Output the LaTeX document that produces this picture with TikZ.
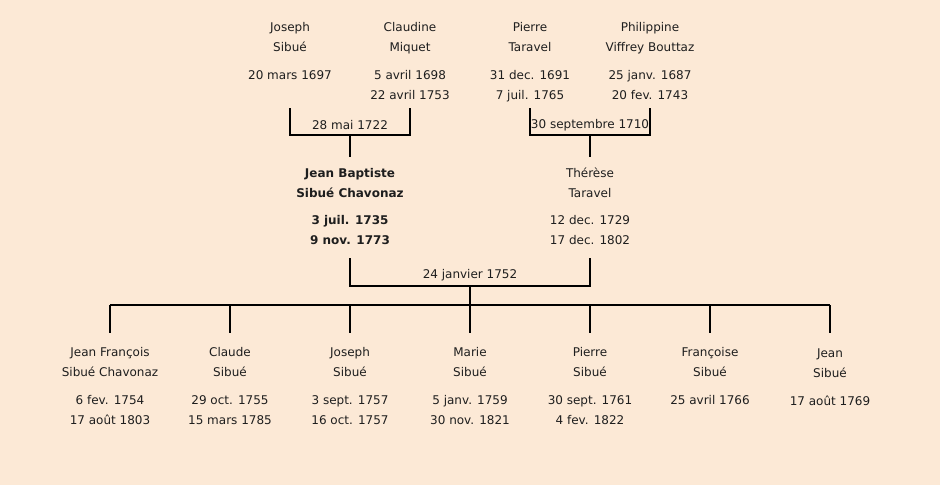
\documentclass[tikz,border=0pt]{standalone}
\usepackage{fontspec}
\setmainfont{DejaVu Sans}
\definecolor{bgc}{HTML}{FCE9D6}
\definecolor{txt}{HTML}{1E1E1E}
\begin{document}
\begin{tikzpicture}[x=1pt,y=-1pt,
  person/.style={align=center,anchor=north,inner sep=0pt,text=txt,font=\fontsize{12}{20}\selectfont},
  boldperson/.style={person,font=\fontsize{12}{20}\selectfont\bfseries},
  wed/.style={inner sep=0pt,text=txt,font=\fontsize{12}{14}\selectfont},
  link/.style={draw=black,line width=2pt}]
\fill[bgc] (0,0) rectangle (940,485);
\useasboundingbox (0,0) rectangle (940,485);
% top generation
\node[person] (joseph) at (290,22) {Joseph\\Sibué\\[8pt]20 mars 1697};
\node[person] (claudine) at (410,22) {Claudine\\Miquet\\[8pt]5 avril 1698\\22 avril 1753};
\node[person] (pierre) at (530,22) {Pierre\\Taravel\\[8pt]31 dec. 1691\\7 juil. 1765};
\node[person] (philippine) at (650,22) {Philippine\\Viffrey Bouttaz\\[8pt]25 janv. 1687\\20 fev. 1743};
% middle generation
\node[boldperson] (jb) at (350,168) {Jean Baptiste\\Sibué Chavonaz\\[7pt]3 juil. 1735\\9 nov. 1773};
\node[person] (therese) at (590,168) {Thérèse\\Taravel\\[7pt]12 dec. 1729\\17 dec. 1802};
% children
\node[person] (c1) at (110,347) {Jean François\\Sibué Chavonaz\\[8pt]6 fev. 1754\\17 août 1803};
\node[person] (c2) at (230,347) {Claude\\Sibué\\[8pt]29 oct. 1755\\15 mars 1785};
\node[person] (c3) at (350,347) {Joseph\\Sibué\\[8pt]3 sept. 1757\\16 oct. 1757};
\node[person] (c4) at (470,347) {Marie\\Sibué\\[8pt]5 janv. 1759\\30 nov. 1821};
\node[person] (c5) at (590,347) {Pierre\\Sibué\\[8pt]30 sept. 1761\\4 fev. 1822};
\node[person] (c6) at (710,347) {Françoise\\Sibué\\[8pt]25 avril 1766};
\node[person] (c7) at (830,348.5) {Jean\\Sibué\\[8pt]17 août 1769};
% helper coordinates
\coordinate (t1) at (0,108);
\coordinate (m1) at (350,135);
\coordinate (m2) at (590,135);
\coordinate (s1) at (0,157);
\coordinate (t2) at (0,258);
\coordinate (m3) at (470,286);
\coordinate (bar) at (470,305);
\coordinate (t3) at (0,333);
% marriage labels
\node[wed] (w1) at (350,125) {28 mai 1722};
\node[wed] (w2) at (590,125) {30 septembre 1710};
\node[wed] (w3) at (470,275) {24 janvier 1752};
% connectors
\draw[link] (joseph |- t1) -- (joseph |- m1) -- (claudine |- m1) -- (claudine |- t1);
\draw[link] (m1) -- (m1 |- s1);
\draw[link] (pierre |- t1) -- (pierre |- m2) -- (philippine |- m2) -- (philippine |- t1);
\draw[link] (m2) -- (m2 |- s1);
\draw[link] (jb |- t2) -- (jb |- m3) -- (therese |- m3) -- (therese |- t2);
\draw[link] (m3) -- (bar);
\draw[link] (c1 |- bar) -- (c7 |- bar);
\foreach \c in {c1,c2,c3,c4,c5,c6,c7} {
  \draw[link] (\c |- bar) -- (\c |- t3);
}
\end{tikzpicture}
\end{document}
